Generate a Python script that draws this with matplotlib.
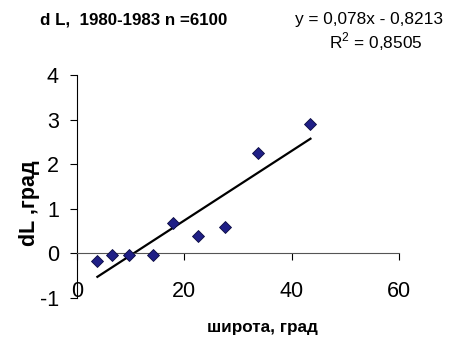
import numpy as np
import matplotlib
matplotlib.use("Agg")
import matplotlib.pyplot as plt

plt.rcParams["font.family"] = ["Liberation Sans", "DejaVu Sans"]
plt.rcParams["axes.unicode_minus"] = False
plt.rcParams["mathtext.fontset"] = "custom"
plt.rcParams["mathtext.rm"] = "Liberation Sans"

# data
lat = [3.8, 6.6, 9.6, 14.1, 17.8, 22.5, 27.6, 33.7, 43.5]
dL = [-0.18, -0.03, -0.03, -0.03, 0.68, 0.38, 0.59, 2.26, 2.91]
slope = 0.078
intercept = -0.8213
r2 = "0,8505"
x_ticks = [0, 20, 40, 60]
y_ticks = [-1, 0, 1, 2, 3, 4]

fig = plt.figure(figsize=(4.54, 3.38), dpi=100)
ax = fig.add_axes([0.1696, 0.1183, 0.7093, 0.6598])

ax.plot(lat, dL, "D", ms=6.5, mfc="#1f1f86", mec="#0a0a40", mew=0.6, zorder=3)
xt = np.array([min(lat), max(lat)])
ax.plot(xt, slope * xt + intercept, color="black", lw=1.6, zorder=2)

ax.set_xlim(0, 60)
ax.set_ylim(-1, 4)
ax.set_xticks(x_ticks)
ax.set_yticks(y_ticks)
ax.spines["top"].set_visible(False)
ax.spines["right"].set_visible(False)
ax.spines["bottom"].set_position(("data", 0))
ax.spines["bottom"].set_color("#555555")
ax.tick_params(axis="x", direction="out", length=5, pad=15, labelsize=15.5)
ax.tick_params(axis="y", direction="out", length=5, pad=8, labelsize=15.5)

fig.text(0.579, 0.03, "широта, град", ha="center", va="center",
         fontsize=12.3, fontweight="bold")
fig.text(0.066, 0.40, "dL ,град", ha="center", va="center", rotation=90,
         fontsize=15.5, fontweight="bold")

fig.text(0.088, 0.941, "d L,  1980-1983 n =6100", ha="left", va="center",
         fontsize=12.2, fontweight="bold")
fig.text(0.650, 0.941, f"y = {slope:.3f}x - {abs(intercept):.4f}".replace(".", ","),
         ha="left", va="center", fontsize=12.4)
fig.text(0.725, 0.876, "R$^2$ = " + r2, ha="left", va="center", fontsize=12.4)

fig.savefig("out.png", dpi=100)
